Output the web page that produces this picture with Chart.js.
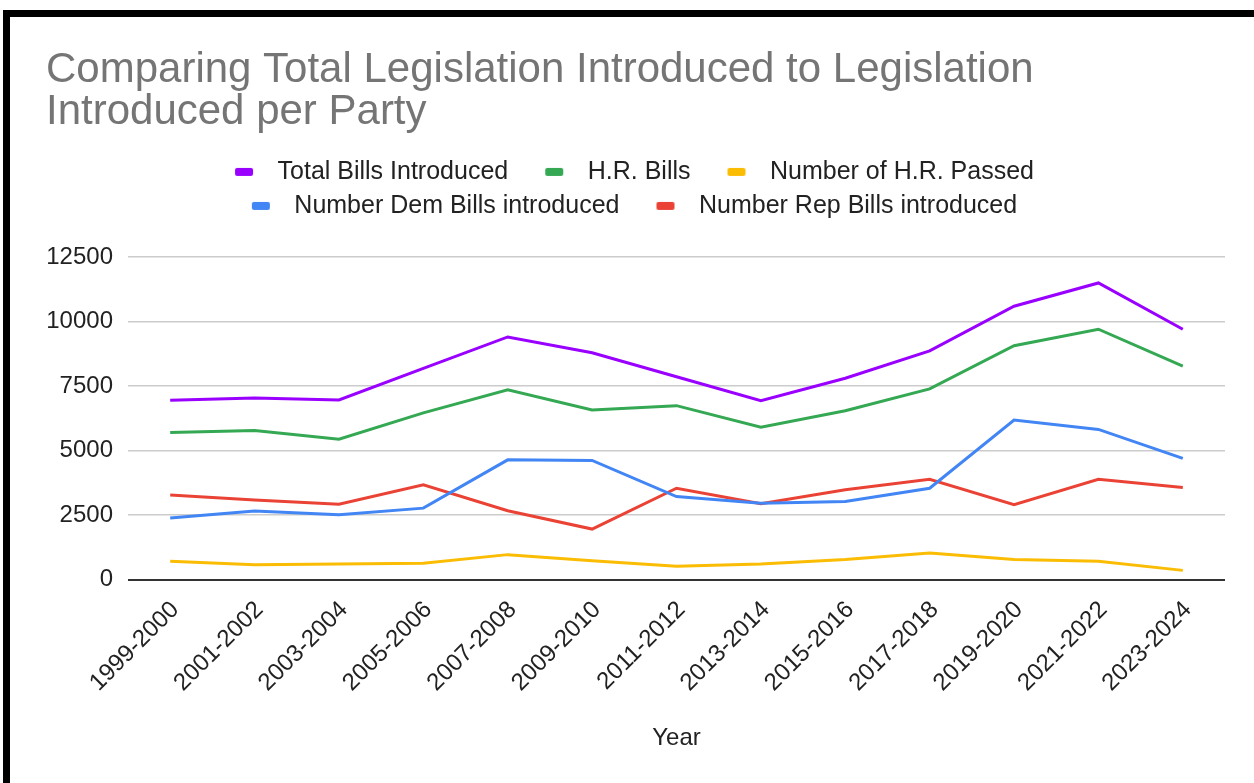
<!DOCTYPE html>
<html><head><meta charset="utf-8">
<script src="https://cdn.jsdelivr.net/npm/chart.js@4"></script>
<style>
html,body{margin:0;padding:0;background:#fff;width:1254px;height:783px;overflow:hidden}
#frame{position:absolute;left:3px;top:10px;width:1244px;height:766px;border-left:7px solid #000;border-top:7px solid #000;background:#fff}
canvas{display:block}
</style></head><body>
<div id="frame"><canvas id="c" width="1244" height="766" style="width:1244px;height:766px"></canvas></div>
<script>
const categories = ['1999-2000','2001-2002','2003-2004','2005-2006','2007-2008','2009-2010','2011-2012','2013-2014','2015-2016','2017-2018','2019-2020','2021-2022','2023-2024'];
const totalBills = [6950, 7040, 6960, 8180, 9400, 8790, 7860, 6930, 7800, 8860, 10590, 11490, 9700];
const hrBills    = [5700, 5780, 5440, 6460, 7350, 6570, 6740, 5900, 6540, 7390, 9060, 9700, 8270];
const hrPassed   = [710, 580, 610, 640, 970, 730, 520, 610, 780, 1030, 780, 710, 360];
const demBills   = [2390, 2660, 2510, 2770, 4640, 4620, 3220, 2960, 3030, 3540, 6180, 5820, 4700];
const repBills   = [3280, 3090, 2920, 3670, 2670, 1960, 3540, 2940, 3480, 3890, 2900, 3890, 3570];
const seriesNames = ['Total Bills Introduced','H.R. Bills','Number of H.R. Passed','Number Dem Bills introduced','Number Rep Bills introduced'];
const seriesColors = ['#9900ff','#34a853','#fbbc04','#4285f4','#ea4335'];
const yTickValues = [0, 2500, 5000, 7500, 10000, 12500];
const titleLines = ['Comparing Total Legislation Introduced to Legislation','Introduced per Party'];
const xTitle = 'Year';

const FONT = "'Liberation Sans', Arial, sans-serif";

function makePill(color){
  const c = document.createElement('canvas');
  c.width = 58; c.height = 10;
  const g = c.getContext('2d');
  g.fillStyle = color;
  g.beginPath();
  g.roundRect(28, 1, 18, 8, 2);
  g.fill();
  return c;
}
const pills = seriesColors.map(makePill);

const seriesValues = [totalBills, hrBills, hrPassed, demBills, repBills];
const datasets = seriesNames.map((name, i) => ({
  label: name,
  data: seriesValues[i],
  borderColor: seriesColors[i],
  backgroundColor: seriesColors[i],
  borderWidth: 3,
  pointRadius: 0,
  tension: 0,
  fill: false
}));

const shiftLegend = {
  id: 'shiftLegend',
  afterLayout(chart){
    if (chart.legend){ chart.legend.left -= 15; chart.legend.right -= 15; }
  }
};

new Chart(document.getElementById('c'), {
  type: 'line',
  data: { labels: categories, datasets },
  plugins: [shiftLegend],
  options: {
    responsive: false,
    animation: false,
    devicePixelRatio: 1,
    layout: { autoPadding: false, padding: { left: 36, right: 29, top: 0, bottom: 30 } },
    plugins: {
      title: {
        display: true, text: titleLines, align: 'start', color: '#757575',
        font: { family: FONT, size: 42, weight: 'normal', lineHeight: 1.0 },
        padding: { top: 32.4, bottom: 17 }
      },
      subtitle: {
        display: true, text: '', weight: 500,
        font: { size: 1, lineHeight: 1 }, padding: { top: 27.5, bottom: 0 }
      },
      legend: {
        display: true, position: 'top', align: 'center',
        labels: {
          usePointStyle: true, pointStyleWidth: 58, boxHeight: 10,
          padding: 9, color: '#222',
          font: { family: FONT, size: 25 },
          generateLabels(chart){
            const items = Chart.defaults.plugins.legend.labels.generateLabels(chart);
            items.forEach((it, i) => { it.pointStyle = pills[i]; });
            return items;
          }
        }
      },
      tooltip: { enabled: false }
    },
    scales: {
      x: {
        offset: true,
        afterFit(axis){ axis.paddingLeft = 0; axis.paddingRight = 0; },
        grid: { display: false, drawTicks: false },
        border: { display: false },
        ticks: { color: '#222', font: { family: FONT, size: 24 }, maxRotation: 45, minRotation: 45, padding: 16, labelOffset: 5, autoSkip: false },
        title: { display: true, text: xTitle, color: '#222', font: { family: FONT, size: 24 }, padding: { top: 11, bottom: 0 } }
      },
      y: {
        min: 0, max: 12500,
        afterBuildTicks(axis){ axis.ticks = yTickValues.map(v => ({ value: v })); },
        afterFit(axis){ axis.width = 82; },
        grid: {
          drawTicks: false,
          color: (ctx) => ctx.tick && ctx.tick.value === 0 ? '#333333' : '#cccccc',
          lineWidth: (ctx) => ctx.tick && ctx.tick.value === 0 ? 2 : 1.5
        },
        border: { display: false },
        ticks: { color: '#222', font: { family: FONT, size: 24 }, padding: 15, callback: (v) => String(v) }
      }
    }
  }
});
</script>
</body></html>
